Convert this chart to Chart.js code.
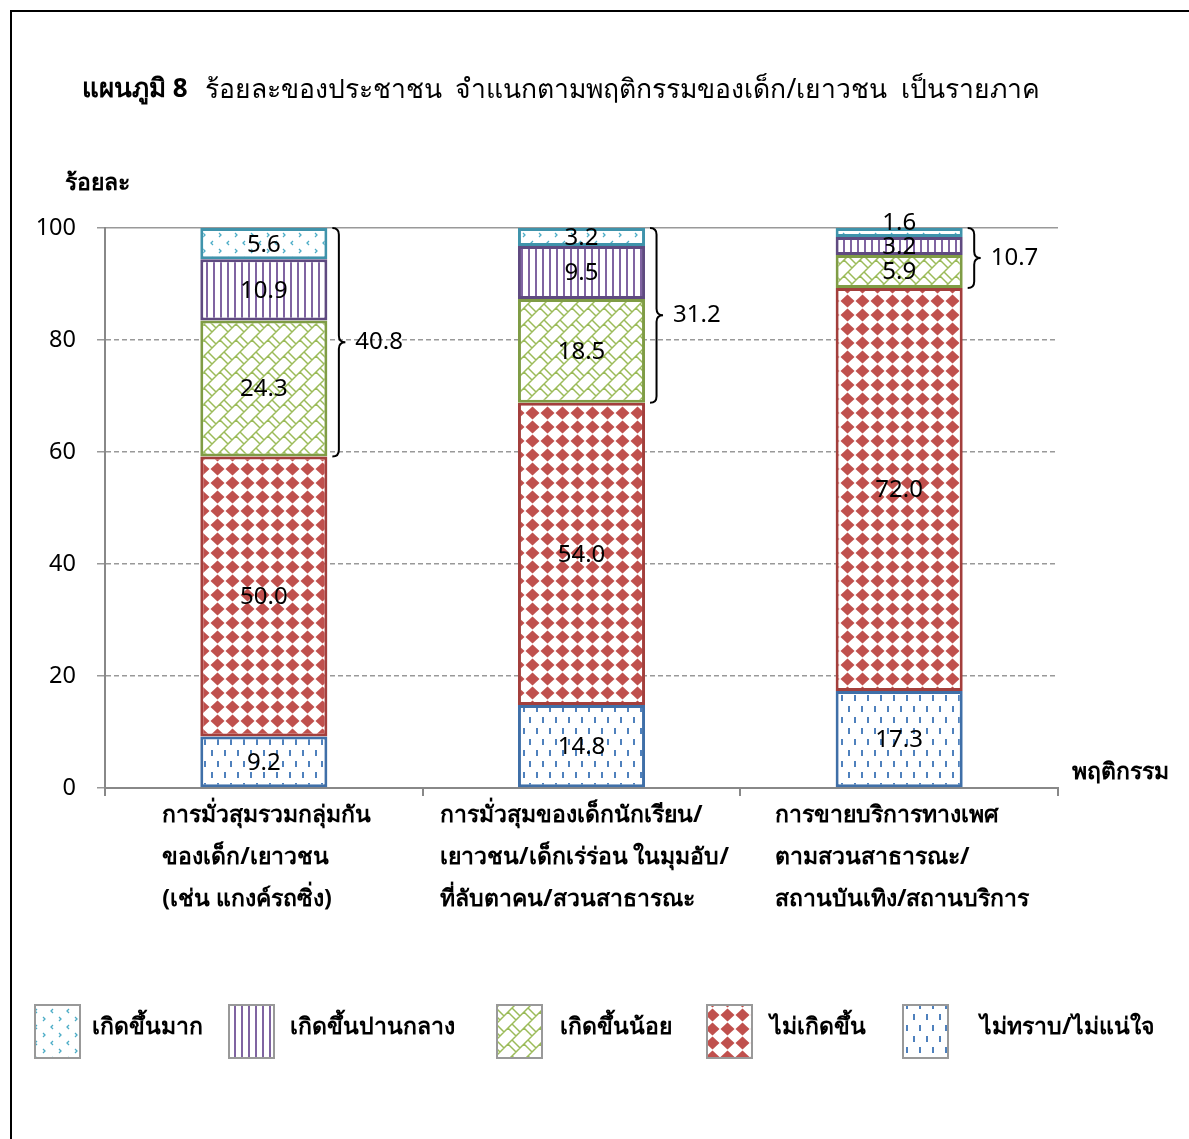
<!DOCTYPE html>
<html>
<head>
<meta charset="utf-8">
<script src="https://cdn.jsdelivr.net/npm/chart.js@4/dist/chart.umd.min.js"></script>
<style>
  html, body { margin: 0; padding: 0; background: #fff; overflow: hidden; }
  #wrap { position: absolute; left: 0; top: 0; width: 1189px; height: 1139px; }
  #frame { position: absolute; left: 10px; top: 10px; width: 1300px; height: 1300px; border: 2px solid #000; }
</style>
</head>
<body>
<div id="frame"></div>
<div id="wrap"><canvas id="chart" width="1189" height="1139"></canvas></div>
<script>
const FONT = "'Noto Sans', 'DejaVu Sans', sans-serif";

// data
const categories = [
  ['การมั่วสุมรวมกลุ่มกัน', 'ของเด็ก/เยาวชน', '(เช่น แกงค์รถซิ่ง)'],
  ['การมั่วสุมของเด็กนักเรียน/', 'เยาวชน/เด็กเร่ร่อน ในมุมอับ/', 'ที่ลับตาคน/สวนสาธารณะ'],
  ['การขายบริการทางเพศ', 'ตามสวนสาธารณะ/', 'สถานบันเทิง/สถานบริการ']
];
const unsure = [9.2, 14.8, 17.3];     // ไม่ทราบ/ไม่แน่ใจ
const never = [50.0, 54.0, 72.0];     // ไม่เกิดขึ้น
const low = [24.3, 18.5, 5.9];        // เกิดขึ้นน้อย
const medium = [10.9, 9.5, 3.2];      // เกิดขึ้นปานกลาง
const high = [5.6, 3.2, 1.6];         // เกิดขึ้นมาก
const yTicks = [0, 20, 40, 60, 80, 100];

const titleBold = 'แผนภูมิ 8';
const titleText = 'ร้อยละของประชาชน  จำแนกตามพฤติกรรมของเด็ก/เยาวชน  เป็นรายภาค';
const yTitle = 'ร้อยละ';
const xTitle = 'พฤติกรรม';

// patterns
const pctx = document.createElement('canvas').getContext('2d');
function makePattern(w, h, draw) {
  const c = document.createElement('canvas');
  c.width = w; c.height = h;
  const g = c.getContext('2d');
  g.fillStyle = '#fff';
  g.fillRect(0, 0, w, h);
  draw(g);
  return pctx.createPattern(c, 'repeat');
}

const patHigh = makePattern(16, 16, g => {
  g.strokeStyle = '#4BACC6'; g.lineWidth = 1.3;
  g.beginPath();
  g.moveTo(5, 1); g.lineTo(3, 3); g.lineTo(5, 5);
  g.moveTo(11, 9); g.lineTo(13, 11); g.lineTo(11, 13);
  g.stroke();
});
const patMedium = makePattern(7, 8, g => {
  g.fillStyle = '#8064A2';
  g.fillRect(3, 0, 2, 8);
});
const patLow = makePattern(16, 16, g => {
  g.strokeStyle = '#9BBB59'; g.lineWidth = 1.5;
  g.beginPath();
  for (const ox of [-16, 0, 16]) {
    for (const oy of [-16, 0, 16]) {
      g.moveTo(ox, oy + 16); g.lineTo(ox + 16, oy);
      g.moveTo(ox, oy); g.lineTo(ox + 8, oy + 8);
      g.moveTo(ox + 12, oy + 4); g.lineTo(ox + 20, oy + 12);
    }
  }
  g.stroke();
});
const patNever = makePattern(15, 14, g => {
  g.fillStyle = '#C0504D';
  g.beginPath();
  g.moveTo(7.5, 0.5); g.lineTo(14.5, 7); g.lineTo(7.5, 13.5); g.lineTo(0.5, 7);
  g.closePath();
  g.fill();
});
const patUnsure = makePattern(13, 22, g => {
  g.fillStyle = '#4F81BD';
  g.fillRect(3, 2, 2, 6);
  g.fillRect(9, 13, 2, 6);
});

const datasets = [
  { label: 'ไม่ทราบ/ไม่แน่ใจ', data: unsure, backgroundColor: patUnsure, borderColor: '#3F6FA8' },
  { label: 'ไม่เกิดขึ้น', data: never, backgroundColor: patNever, borderColor: '#A33F3C' },
  { label: 'เกิดขึ้นน้อย', data: low, backgroundColor: patLow, borderColor: '#7F9C45' },
  { label: 'เกิดขึ้นปานกลาง', data: medium, backgroundColor: patMedium, borderColor: '#5F4A80' },
  { label: 'เกิดขึ้นมาก', data: high, backgroundColor: patHigh, borderColor: '#3F93AB' }
].map(d => Object.assign(d, { borderWidth: 3, borderSkipped: false }));

// legend order as in the picture, left to right
const legendOrder = [4, 3, 2, 1, 0];
const legendBoxX = [35, 229, 497, 707, 903];
const legendTextX = [92, 290, 560, 770, 980];

function drawBrace(ctx, x, yTop, yBot, w) {
  const mid = (yTop + yBot) / 2, r = w / 2;
  ctx.beginPath();
  ctx.moveTo(x, yTop);
  ctx.quadraticCurveTo(x + r, yTop, x + r, yTop + r);
  ctx.lineTo(x + r, mid - r);
  ctx.quadraticCurveTo(x + r, mid, x + w, mid);
  ctx.quadraticCurveTo(x + r, mid, x + r, mid + r);
  ctx.lineTo(x + r, yBot - r);
  ctx.quadraticCurveTo(x + r, yBot, x, yBot);
  ctx.stroke();
}

const extras = {
  id: 'extras',
  afterDatasetsDraw(chart) {
    const ctx = chart.ctx;
    const y = chart.scales.y;
    ctx.save();
    ctx.fillStyle = '#000';
    ctx.font = '24px ' + FONT;
    ctx.textAlign = 'center';
    ctx.textBaseline = 'middle';
    chart.data.datasets.forEach((ds, i) => {
      chart.getDatasetMeta(i).data.forEach((el, j) => {
        let cy = (el.y + el.base) / 2 + 1;
        if (ds.data[j] < 2) cy -= 10;
        ctx.fillText(ds.data[j].toFixed(1), el.x, cy);
      });
    });
    // braces over the three "occurred" groups
    ctx.strokeStyle = '#000';
    ctx.lineWidth = 2;
    ctx.textAlign = 'left';
    categories.forEach((c, j) => {
      const el = chart.getDatasetMeta(4).data[j];
      const sum = high[j] + medium[j] + low[j];
      const x0 = el.x + el.width / 2 + 5;
      const yTop = y.getPixelForValue(100);
      const yBot = y.getPixelForValue(100 - sum);
      drawBrace(ctx, x0, yTop, yBot, 13);
      ctx.fillText(sum.toFixed(1), x0 + 23, (yTop + yBot) / 2);
    });
    ctx.restore();
  },
  afterDraw(chart) {
    const ctx = chart.ctx;
    const x = chart.scales.x;
    ctx.save();
    ctx.fillStyle = '#000';
    ctx.textBaseline = 'middle';
    // title
    ctx.textAlign = 'left';
    ctx.font = 'bold 26px ' + FONT;
    ctx.fillText(titleBold, 82, 90);
    const tw = ctx.measureText(titleBold).width;
    ctx.font = '26.5px ' + FONT;
    ctx.fillText(titleText, 82 + tw + 17, 90);
    // axis titles
    ctx.font = 'bold 23px ' + FONT;
    ctx.fillText(yTitle, 65, 183);
    ctx.fillText(xTitle, 1072, 772);
    // category labels, left-aligned block centred on each category
    categories.forEach((lines, j) => {
      const bw = Math.max(...lines.map(l => ctx.measureText(l).width));
      const left = x.getPixelForValue(j) - bw / 2 + 3;
      lines.forEach((l, k) => ctx.fillText(l, left, 815 + k * 42));
    });
    // legend
    legendOrder.forEach((di, k) => {
      const ds = chart.data.datasets[di];
      ctx.fillStyle = ds.backgroundColor;
      ctx.fillRect(legendBoxX[k], 1005, 45, 53);
      ctx.strokeStyle = '#999';
      ctx.lineWidth = 2;
      ctx.strokeRect(legendBoxX[k], 1005, 45, 53);
      ctx.fillStyle = '#000';
      ctx.fillText(ds.label, legendTextX[k], 1027);
    });
    ctx.restore();
  }
};

new Chart(document.getElementById('chart'), {
  type: 'bar',
  data: { labels: categories.map(c => c.join(' ')), datasets: datasets },
  options: {
    responsive: false,
    animation: false,
    layout: { padding: { left: 0, right: 131, top: 228, bottom: 0 } },
    barPercentage: 0.4,
    categoryPercentage: 1.0,
    plugins: { legend: { display: false }, tooltip: { enabled: false } },
    scales: {
      x: {
        stacked: true,
        ticks: { display: false },
        grid: { drawOnChartArea: false, offset: true, tickLength: 8, color: '#888', lineWidth: 2 },
        border: { color: '#888', width: 2 },
        afterFit(s) { s.height = 351; }
      },
      y: {
        stacked: true,
        min: 0,
        max: 100,
        afterBuildTicks(s) { s.ticks = yTicks.map(v => ({ value: v })); },
        ticks: { color: '#000', font: { size: 23.5, family: FONT }, padding: 21 },
        grid: { color: '#999', lineWidth: 1.5, tickLength: 8 },
        border: {
          color: '#888', width: 2,
          dash: c => (c.tick && c.tick.value < 100 && c.tick.value > 0) ? [5, 3] : []
        },
        afterFit(s) { s.width = 105; }
      }
    }
  },
  plugins: [extras]
});
</script>
</body>
</html>
